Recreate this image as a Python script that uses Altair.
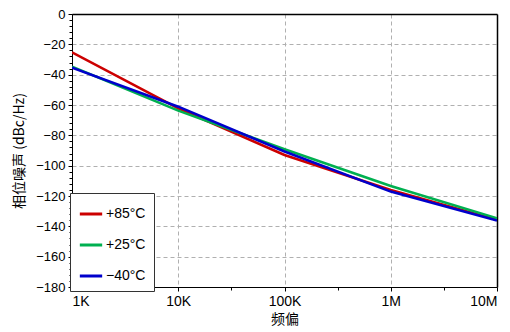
import altair as alt
import pandas as pd

freqs = [1e3, 1e4, 1e5, 1e6, 1e7]
series_names = ["+85°C", "+25°C", "−40°C"]
red_85 = [-25.3, -62.2, -93.0, -116.0, -135.7]
green_25 = [-34.7, -63.7, -89.2, -113.4, -134.7]
blue_m40 = [-35.4, -61.1, -90.7, -117.1, -136.2]
colors = ["#cc0000", "#00b050", "#0000cc"]

x_major = [1e3, 1e4, 1e5, 1e6, 1e7]
x_minor = [3162.3, 31623, 316228, 3162278]
y_major = list(range(-180, 1, 20))
y_minor = list(range(-180, 1, 4))

rows = []
for name, vals in zip(series_names, [red_85, green_25, blue_m40]):
    for f, v in zip(freqs, vals):
        rows.append({"freq": f, "pn": v, "series": name})
df = pd.DataFrame(rows)

label_expr = ("datum.value >= 1e6 ? format(datum.value/1e6, 'd') + 'M' : "
              "format(datum.value/1e3, 'd') + 'K'")

xscale = alt.Scale(type="log", domain=[1e3, 1e7], nice=False)
yscale = alt.Scale(domain=[-180, 0], nice=False)

tick_font = "Liberation Sans"
cjk = "Noto Sans CJK SC"

x_grid_op = {"condition": {"test": "datum.value < 1.5e3 || datum.value > 9e6", "value": 0}, "value": 1}
y_grid_op = {"condition": {"test": "datum.value > -1 || datum.value < -179", "value": 0}, "value": 1}

main = alt.Chart(df).mark_line(strokeWidth=2.6, clip=True).encode(
    x=alt.X("freq:Q", scale=xscale,
            axis=alt.Axis(values=x_major, labelExpr=label_expr, title="频偏",
                          grid=True, gridDash=[4, 3], gridColor="#b0b0b0",
                          gridOpacity=x_grid_op,
                          domainColor="#000", tickColor="#000", tickSize=4,
                          labelFont=tick_font, labelFontSize=14, labelColor="#000",
                          labelPadding=3, titleFont=cjk, titleFontSize=14,
                          titleFontWeight="normal", titleColor="#000", titlePadding=4)),
    y=alt.Y("pn:Q", scale=yscale,
            axis=alt.Axis(values=y_major, title="相位噪声 (dBc/Hz)",
                          grid=True, gridDash=[4, 3], gridColor="#b0b0b0",
                          gridOpacity=y_grid_op,
                          domainColor="#000", tickColor="#000", tickSize=4,
                          labelFont=tick_font, labelFontSize=13, labelColor="#000",
                          labelPadding=3, titleFont=cjk, titleFontSize=14,
                          titleFontWeight="normal", titleColor="#000", titlePadding=9)),
    color=alt.Color("series:N", sort=series_names,
                    scale=alt.Scale(domain=series_names, range=colors),
                    legend=alt.Legend(title=None, orient="none", legendX=-2, legendY=179,
                                      symbolType="stroke", symbolSize=500,
                                      symbolStrokeWidth=3, labelFont=tick_font,
                                      labelFontSize=14, labelColor="#000",
                                      labelOffset=2,
                                      rowPadding=11, padding=8,
                                      strokeColor="#333", fillColor="#fff",
                                      labelLimit=200)),
)

minor = alt.Chart(df).mark_line(opacity=0).encode(
    x=alt.X("freq:Q", scale=xscale,
            axis=alt.Axis(values=x_minor, orient="bottom", labels=False, grid=False,
                          domain=False, tickColor="#000", tickSize=3, title=None)),
    y=alt.Y("pn:Q", scale=yscale,
            axis=alt.Axis(values=y_minor, orient="left", labels=False, grid=False,
                          domain=False, tickColor="#000", tickSize=3, title=None)),
)

frame = alt.Chart(df).mark_line(opacity=0).encode(
    x=alt.X("freq:Q", scale=xscale,
            axis=alt.Axis(orient="top", labels=False, grid=False, ticks=False,
                          domain=True, domainColor="#000", domainWidth=1.5, title=None)),
    y=alt.Y("pn:Q", scale=yscale,
            axis=alt.Axis(orient="right", labels=False, grid=False, ticks=False,
                          domain=True, domainColor="#000", domainWidth=1.5, title=None)),
)

chart = alt.layer(main, minor, frame).resolve_axis(x="independent", y="independent").properties(
    width=425, height=273,
    autosize=alt.AutoSizeParams(type="none"),
    padding={"left": 64, "top": 6, "right": 5, "bottom": 45},
).configure_view(stroke="#000000", strokeOpacity=1, strokeWidth=1).configure(background="#fff")

chart.save("out.html", embed_options={"renderer": "svg", "actions": False})
